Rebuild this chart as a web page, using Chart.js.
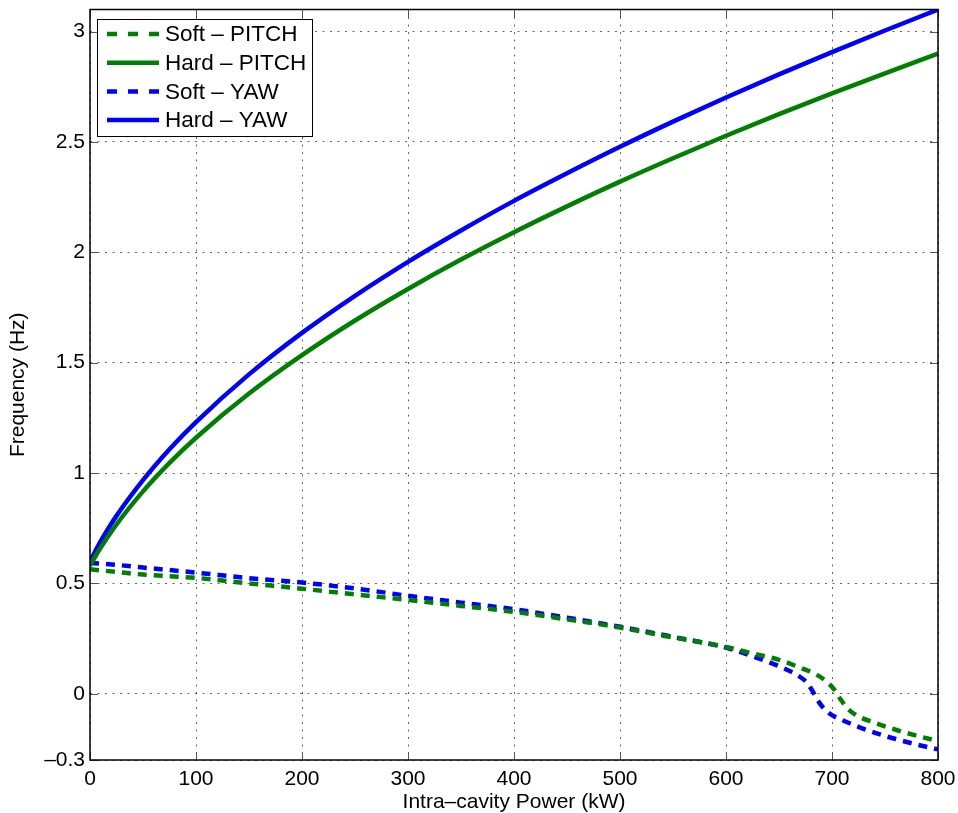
<!DOCTYPE html>
<html>
<head>
<meta charset="utf-8">
<script src="https://cdn.jsdelivr.net/npm/chart.js@4/dist/chart.umd.min.js"></script>
<style>
  html, body { margin: 0; padding: 0; background: #fff; }
  canvas { display: block; }
</style>
</head>
<body>
<canvas id="chart" width="958" height="813"></canvas>
<script>
// values
const powerHard = [0, 5, 10, 25, 50, 75, 100, 150, 200, 250, 300, 350, 400, 450, 500, 550, 600, 650, 700, 750, 800];
const hardPitch = [0.58, 0.622, 0.661, 0.767, 0.917, 1.046, 1.160, 1.360, 1.534, 1.691, 1.834, 1.967, 2.091, 2.208, 2.320, 2.426, 2.528, 2.626, 2.720, 2.811, 2.900];
const hardYaw = [0.60, 0.646, 0.690, 0.806, 0.968, 1.108, 1.231, 1.447, 1.635, 1.803, 1.957, 2.099, 2.233, 2.358, 2.478, 2.592, 2.701, 2.806, 2.907, 3.005, 3.100];

const powerSoftPitch = [0, 25, 50, 100, 150, 200, 250, 300, 350, 400, 450, 500, 550, 600, 625, 650, 670, 685, 695, 702, 708, 715, 724, 740, 760, 780, 800];
const softPitch = [0.564, 0.552, 0.540, 0.525, 0.500, 0.476, 0.450, 0.425, 0.398, 0.371, 0.337, 0.300, 0.255, 0.212, 0.183, 0.154, 0.118, 0.088, 0.055, 0.020, -0.025, -0.068, -0.100, -0.131, -0.163, -0.190, -0.214];

const powerSoftYaw = [0, 25, 50, 100, 150, 200, 250, 300, 350, 400, 450, 500, 550, 600, 625, 650, 670, 676, 680, 684, 688, 694, 700, 710, 725, 740, 760, 780, 800];
const softYaw = [0.593, 0.584, 0.572, 0.549, 0.524, 0.504, 0.477, 0.444, 0.413, 0.383, 0.345, 0.304, 0.258, 0.209, 0.170, 0.125, 0.076, 0.052, 0.025, -0.008, -0.040, -0.075, -0.097, -0.120, -0.150, -0.176, -0.205, -0.230, -0.252];

const yTicks = [-0.3, 0, 0.5, 1, 1.5, 2, 2.5, 3];
const xTicks = [0, 100, 200, 300, 400, 500, 600, 700, 800];
const legendLabels = ["Soft \u2013 PITCH", "Hard \u2013 PITCH", "Soft \u2013 YAW", "Hard \u2013 YAW"];

const GREEN = "#008000";
const BLUE = "#0000ff";
const FONT = "'Liberation Sans', Arial, Helvetica, sans-serif";
const DASH = [9, 7];
const LEGEND_DASH = [10, 11];

const pts = (xs, ys) => xs.map((x, i) => ({ x, y: ys[i] }));

// MATLAB-like frame: box, inward ticks and legend inside the plot
const framePlugin = {
  id: "frame",
  afterDatasetsDraw(chart) {
    const { ctx, chartArea: a, scales } = chart;
    const xs = scales.x, ys = scales.y;
    ctx.save();
    ctx.strokeStyle = "#555";
    ctx.lineWidth = 1;
    ctx.beginPath();
    const tl = 8;
    xTicks.forEach(v => {
      const px = Math.round(xs.getPixelForValue(v)) + 0.5;
      ctx.moveTo(px, a.bottom); ctx.lineTo(px, a.bottom - tl);
      ctx.moveTo(px, a.top); ctx.lineTo(px, a.top + tl);
    });
    yTicks.forEach(v => {
      const py = Math.round(ys.getPixelForValue(v)) + 0.5;
      ctx.moveTo(a.left, py); ctx.lineTo(a.left + tl, py);
      ctx.moveTo(a.right, py); ctx.lineTo(a.right - tl, py);
    });
    ctx.stroke();
    ctx.strokeStyle = "#000";
    ctx.lineWidth = 1.5;
    ctx.strokeRect(a.left, a.top, a.right - a.left, a.bottom - a.top);

    // legend
    const lx = 97, ly = 19, lw = 215, lh = 117;
    ctx.fillStyle = "#fff";
    ctx.fillRect(lx, ly, lw, lh);
    ctx.strokeStyle = "#000";
    ctx.lineWidth = 1;
    ctx.strokeRect(lx + 0.5, ly + 0.5, lw, lh);
    ctx.font = "22.5px " + FONT;
    ctx.textBaseline = "middle";
    ctx.textAlign = "left";
    chart.data.datasets.forEach((ds, i) => {
      const cy = 34 + i * 28.7;
      ctx.strokeStyle = ds.borderColor;
      ctx.lineWidth = 4.5;
      ctx.lineCap = "butt";
      ctx.setLineDash(ds.borderDash ? LEGEND_DASH : []);
      ctx.beginPath();
      ctx.moveTo(107, cy); ctx.lineTo(159, cy);
      ctx.stroke();
      ctx.setLineDash([]);
      ctx.fillStyle = "#000";
      ctx.fillText(legendLabels[i], 165, cy + 1);
    });
    ctx.restore();
  }
};

new Chart(document.getElementById("chart"), {
  type: "line",
  data: {
    datasets: [
      { label: legendLabels[0], data: pts(powerSoftPitch, softPitch), borderColor: GREEN, borderDash: DASH },
      { label: legendLabels[1], data: pts(powerHard, hardPitch), borderColor: GREEN },
      { label: legendLabels[2], data: pts(powerSoftYaw, softYaw), borderColor: BLUE, borderDash: DASH },
      { label: legendLabels[3], data: pts(powerHard, hardYaw), borderColor: BLUE }
    ].map(ds => Object.assign({
      borderWidth: 4.5,
      pointRadius: 0,
      fill: false,
      cubicInterpolationMode: "monotone",
      borderCapStyle: "butt"
    }, ds))
  },
  options: {
    responsive: false,
    animation: false,
    layout: { padding: { left: 0, top: 9.5, right: 20, bottom: 0 } },
    plugins: { legend: { display: false }, tooltip: { enabled: false } },
    scales: {
      x: {
        type: "linear",
        min: 0,
        max: 800,
        afterBuildTicks: s => { s.ticks = xTicks.map(v => ({ value: v })); },
        afterFit: s => { s.height = 53; s.paddingLeft = 0; s.paddingRight = 0; },
        grid: { color: "rgba(0,0,0,0.6)", lineWidth: 1, drawTicks: false },
        border: { display: false, dash: [2, 5.5] },
        ticks: { color: "#000", padding: 7, maxRotation: 0, font: { family: FONT, size: 21 } },
        title: {
          display: true,
          text: "Intra\u2013cavity Power (kW)",
          color: "#000",
          font: { family: FONT, size: 21, lineHeight: 1 },
          padding: { top: 0, bottom: 0 }
        }
      },
      y: {
        type: "linear",
        min: -0.3,
        max: 3.1,
        afterBuildTicks: s => { s.ticks = yTicks.map(v => ({ value: v })); },
        afterFit: s => { s.width = 90; s.paddingTop = 0; s.paddingBottom = 0; },
        grid: { color: "rgba(0,0,0,0.6)", lineWidth: 1, drawTicks: false },
        border: { display: false, dash: [2, 5.5] },
        ticks: {
          color: "#000",
          padding: 5,
          font: { family: FONT, size: 21 },
          callback: v => v < 0 ? "\u2013" + Math.abs(v) : String(v)
        },
        title: {
          display: true,
          text: "Frequency (Hz)",
          color: "#000",
          font: { family: FONT, size: 21, lineHeight: 1 },
          padding: { top: 8, bottom: 0 }
        }
      }
    }
  },
  plugins: [framePlugin]
});
</script>
</body>
</html>
